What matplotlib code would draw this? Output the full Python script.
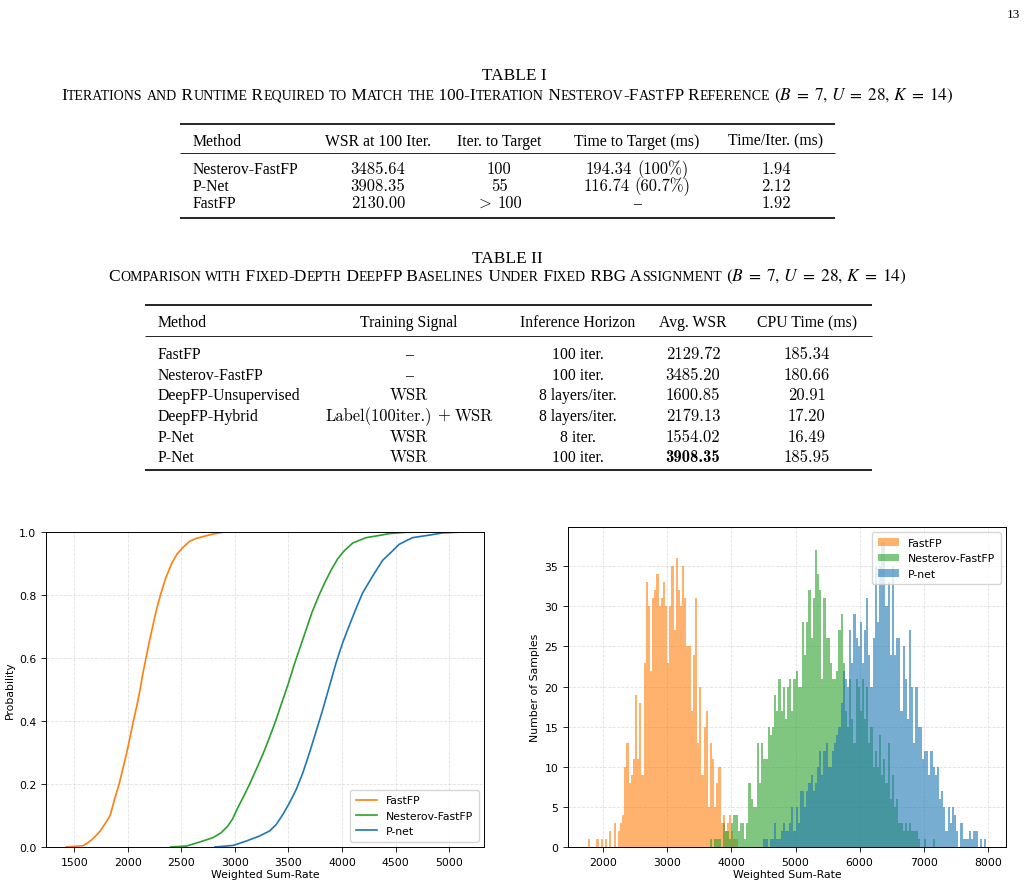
import numpy as np
import matplotlib
matplotlib.use("Agg")
import matplotlib.pyplot as plt
from matplotlib.lines import Line2D

plt.rcParams['mathtext.fontset'] = 'stix'

# ---------------- data ----------------
# Table I
t1_header = ["Method", "WSR at 100 Iter.", "Iter. to Target", "Time to Target (ms)", "Time/Iter. (ms)"]
t1_methods = ["Nesterov-FastFP", "P-Net", "FastFP"]
t1_wsr = ["3485.64", "3908.35", "2130.00"]
t1_iter = ["100", "55", "> 100"]
t1_time = ["194.34 (100%)", "116.74 (60.7%)", "–"]
t1_per_iter = ["1.94", "2.12", "1.92"]

# Table II
t2_header = ["Method", "Training Signal", "Inference Horizon", "Avg. WSR", "CPU Time (ms)"]
t2_methods = ["FastFP", "Nesterov-FastFP", "DeepFP-Unsupervised", "DeepFP-Hybrid", "P-Net", "P-Net"]
t2_signal = ["–", "–", "WSR", "Label(100iter.) + WSR", "WSR", "WSR"]
t2_horizon = ["100 iter.", "100 iter.", "8 layers/iter.", "8 layers/iter.", "8 iter.", "100 iter."]
t2_wsr = ["2129.72", "3485.20", "1600.85", "2179.13", "1554.02", "3908.35"]
t2_cpu = ["185.34", "180.66", "20.91", "17.20", "16.49", "185.95"]
t2_bold_row = 5

cap1 = "Iterations and Runtime Required to Match the 100-Iteration Nesterov-FastFP Reference "
cap2 = "Comparison with Fixed-Depth DeepFP Baselines Under Fixed RBG Assignment "
cap_math = r"$(B\;=\;7,\,U\;=\;28,\,K\;=\;14)$"

# CDF curves (x = weighted sum-rate, p = cumulative probability)
cdf_fast_x = [1422, 1500, 1580, 1620, 1660, 1700, 1745, 1790, 1835, 1875, 1919, 1955, 1990, 2022, 2052,
              2085, 2115, 2140, 2170, 2200, 2232, 2265, 2305, 2350, 2409, 2460, 2512, 2575, 2640, 2720,
              2800, 2909]
cdf_fast_p = [0.0, 0.002, 0.004, 0.012, 0.022, 0.035, 0.052, 0.075, 0.1, 0.15, 0.2, 0.25, 0.3, 0.35, 0.4,
              0.45, 0.5, 0.55, 0.6, 0.65, 0.7, 0.75, 0.8, 0.85, 0.9, 0.93, 0.95, 0.97, 0.98, 0.987,
              0.994, 1.0]
cdf_nest_x = [2400, 2549, 2673, 2797, 2870, 2930, 2980, 3020, 3076, 3138, 3200, 3262, 3320, 3380, 3440,
              3500, 3555, 3610, 3665, 3720, 3780, 3840, 3900, 3960, 4020, 4100, 4224, 4348, 4441, 4597, 4783]
cdf_nest_p = [0.0, 0.003, 0.016, 0.03, 0.045, 0.065, 0.09, 0.12, 0.157, 0.2, 0.247, 0.295, 0.345, 0.4, 0.46,
              0.52, 0.58, 0.635, 0.69, 0.745, 0.795, 0.84, 0.88, 0.915, 0.94, 0.965, 0.982, 0.989, 0.995,
              0.999, 1.0]
cdf_pnet_x = [2813, 2983, 3107, 3231, 3325, 3387, 3449, 3511, 3573, 3635, 3697, 3759, 3821, 3883, 3945,
              4007, 4069, 4131, 4193, 4286, 4379, 4472, 4534, 4658, 4814, 4938, 5140]
cdf_pnet_p = [0.0, 0.005, 0.019, 0.035, 0.051, 0.072, 0.104, 0.141, 0.183, 0.236, 0.3, 0.368, 0.437, 0.511, 0.585,
              0.649, 0.704, 0.757, 0.807, 0.86, 0.91, 0.94, 0.961, 0.982, 0.99, 0.997, 1.0]

# Histogram: shared bins
hist_lo = 1760.0
hist_bin = 33.4
hist_nbins = 186
fast_start_bin = 0
fast_counts = [1, 0, 0, 0, 1, 0, 1, 0, 1, 0, 2, 0, 3, 0, 2, 3, 4, 10, 13, 8,
               9, 11, 19, 11, 18, 9, 23, 33, 30, 22, 31, 32, 34, 30, 31, 33, 30, 23, 30, 35,
               27, 36, 32, 30, 35, 31, 25, 25, 17, 24, 31, 13, 20, 9, 15, 17, 5, 13, 11, 5,
               8, 10, 3, 4, 2, 3, 4, 2, 1, 1]
nest_start_bin = 57
nest_counts = [1, 0, 1, 1, 1, 0, 3, 2, 2, 1, 3, 4, 4, 2, 3, 3, 1, 3, 8, 6,
               5, 5, 13, 8, 13, 11, 11, 15, 14, 15, 19, 17, 21, 17, 20, 16, 20, 21, 17, 21,
               22, 20, 20, 28, 24, 28, 32, 26, 31, 37, 34, 32, 21, 31, 26, 26, 23, 21, 21, 22,
               27, 29, 23, 17, 15, 21, 16, 13, 21, 20, 17, 21, 16, 20, 13, 15, 10, 12, 10, 14,
               9, 11, 8, 13, 6, 9, 5, 6, 3, 3, 2, 3, 2, 3, 2, 2, 2, 1, 0, 0,
               1, 0, 0, 0, 1]
pnet_start_bin = 82
pnet_counts = [1, 1, 0, 1, 1, 3, 1, 1, 2, 3, 2, 2, 3, 5, 2, 5, 3, 7, 7, 5,
               7, 8, 9, 7, 8, 10, 12, 9, 12, 13, 10, 10, 12, 13, 14, 15, 18, 22, 21, 20,
               27, 23, 29, 26, 25, 28, 23, 27, 31, 24, 20, 26, 35, 28, 35, 38, 38, 30, 33, 24,
               35, 24, 26, 26, 17, 25, 21, 16, 27, 20, 13, 20, 15, 15, 11, 12, 12, 9, 12, 10,
               9, 10, 6, 7, 5, 2, 5, 3, 5, 4, 2, 0, 3, 1, 1, 1, 2, 1, 2, 2,
               0, 1, 0, 1]

labels = ["FastFP", "Nesterov-FastFP", "P-net"]
colors = ["tab:orange", "tab:green", "tab:blue"]

# ---------------- figure ----------------
W, H = 1028, 887
fig = plt.figure(figsize=(W / 100, H / 100), dpi=100)
renderer = fig.canvas.get_renderer()
SERIF = ["Liberation Serif", "DejaVu Serif"]
TS = 11.3
CS = 11.9


def fx(x):
    return x / W


def fy(y):
    return 1 - y / H


def txt(x, y, s, ha="left", size=TS, weight="normal"):
    return fig.text(fx(x), fy(y), s, ha=ha, va="baseline", fontsize=size,
                    family=SERIF, fontweight=weight)


def cm_cell(xc, y, s, bold=False, size=CS):
    """Computer-Modern style cell: words placed one by one (no space glyph needed)."""
    words = s.split(" ")
    arts, gaps = [], []
    for k, w in enumerate(words):
        if w == ">":
            a = fig.text(0, fy(y), r"$>$", va="baseline", ha="left", fontsize=size,
                         math_fontfamily="cm")
        else:
            a = fig.text(0, fy(y), w, va="baseline", ha="left", fontsize=size,
                         family="cmb10" if bold else "cmr10")
        arts.append(a)
        if k < len(words) - 1:
            gaps.append(0.31 * size * 100 / 72.0)
    widths = [a.get_window_extent(renderer).width for a in arts]
    total = sum(widths) + sum(gaps)
    x = xc - total / 2
    for k, (a, w) in enumerate(zip(arts, widths)):
        a.set_x(fx(x))
        x += w + (gaps[k] if k < len(gaps) else 0)


def cell(x, y, s, bold=False):
    if s == "–":
        return txt(x, y, s, ha="center")
    return cm_cell(x, y, s, bold=bold)


def rule(x0, x1, y, lw):
    fig.add_artist(Line2D([fx(x0), fx(x1)], [fy(y), fy(y)], transform=fig.transFigure,
                          color="black", lw=lw, solid_capstyle="butt"))


def smallcaps(xc, y, text, math, target_w, big=8.1, ratio=0.8):
    runs = []
    for ch in text:
        small = ch.islower()
        c = ch.upper() if small else ch
        if runs and runs[-1][1] == small:
            runs[-1][0] += c
        else:
            runs.append([c, small])
    arts = []
    for s, small in runs:
        t = fig.text(0, fy(y), s, va="baseline", ha="left", family=SERIF,
                     fontsize=big * ratio if small else big)
        arts.append(t)
    arts.append(fig.text(0, fy(y), math, va="baseline", ha="left", fontsize=big))
    total = sum(a.get_window_extent(renderer).width for a in arts)
    scale = target_w / total
    for a in arts:
        a.set_fontsize(a.get_fontsize() * scale)
    widths = [a.get_window_extent(renderer).width for a in arts]
    x = xc - sum(widths) / 2
    for a, w in zip(arts, widths):
        a.set_x(fx(x))
        x += w
    return big * scale


# page number
txt(1020, 18, "13", ha="right", size=9.5)

# ---- Table I ----
cs = smallcaps(507.5, 100, cap1, cap_math, 891)
txt(514, 80, "TABLE I", ha="center", size=cs)
rule(180, 835, 125, 1.2)
rule(180, 835, 154.3, 0.6)
rule(180, 835, 219.3, 1.2)
t1_x = [192.5, 378, 499, 637, 776]
t1_hy = 145.7
t1_ry = [173.7, 191, 208]
txt(t1_x[0], t1_hy, t1_header[0])
for j in range(1, 5):
    txt(t1_x[j], t1_hy, t1_header[j], ha="center")
cols1 = [t1_wsr, t1_iter, t1_time, t1_per_iter]
for i, y in enumerate(t1_ry):
    txt(t1_x[0], y, t1_methods[i])
    for j, col in enumerate(cols1):
        cell(t1_x[j + 1], y, col[i])

# ---- Table II ----
cs2 = smallcaps(507.5, 281, cap2, cap_math, 799)
txt(507, 263, "TABLE II", ha="center", size=cs2)
rule(145, 872, 306, 1.2)
rule(145, 872, 336.7, 0.6)
rule(145, 872, 471, 1.2)
t2_x = [157.3, 409, 577.5, 693, 806.7]
t2_hy = 327
t2_ry = [359.3, 379.9, 400.5, 421.1, 441.7, 462.3]
txt(t2_x[0], t2_hy, t2_header[0])
for j in range(1, 5):
    txt(t2_x[j], t2_hy, t2_header[j], ha="center")
for i, y in enumerate(t2_ry):
    txt(t2_x[0], y, t2_methods[i])
    cell(t2_x[1], y, t2_signal[i])
    txt(t2_x[2], y, t2_horizon[i], ha="center")
    cell(t2_x[3], y, t2_wsr[i], bold=(i == t2_bold_row))
    cell(t2_x[4], y, t2_cpu[i])

# ---- plots ----
FS = 7.8
plt.rcParams.update({"font.size": FS})


def style(ax):
    ax.grid(True, linestyle="--", color="#cccccc", alpha=0.6, lw=0.6)
    ax.set_axisbelow(True)
    ax.tick_params(labelsize=FS, length=3.5, width=0.6)
    for sp in ax.spines.values():
        sp.set_linewidth(0.7)
    ax.set_xlabel("Weighted Sum-Rate", fontsize=FS, labelpad=2)


ax1 = fig.add_axes([fx(46), fy(848), (484 - 46) / W, (848 - 533) / H])
ax1.plot(cdf_fast_x, cdf_fast_p, color=colors[0], lw=1.2, label=labels[0])
ax1.plot(cdf_nest_x, cdf_nest_p, color=colors[1], lw=1.2, label=labels[1])
ax1.plot(cdf_pnet_x, cdf_pnet_p, color=colors[2], lw=1.2, label=labels[2])
ax1.set_ylim(0, 1)
ax1.set_ylabel("Probability", fontsize=FS, labelpad=3)
style(ax1)
ax1.legend(loc="lower right", fontsize=FS, borderpad=0.5, handlelength=2.0)

ax2 = fig.add_axes([fx(568), fy(848), (1006 - 568) / W, (848 - 528) / H])
edges = hist_lo + hist_bin * np.arange(hist_nbins + 1)
for start, counts, lab, col in [(fast_start_bin, fast_counts, labels[0], colors[0]),
                                (nest_start_bin, nest_counts, labels[1], colors[1]),
                                (pnet_start_bin, pnet_counts, labels[2], colors[2])]:
    e = edges[start:start + len(counts) + 1]
    centers = 0.5 * (e[:-1] + e[1:])
    ax2.hist(centers, bins=e, weights=counts, alpha=0.6, color=col, label=lab)
ax2.set_ylabel("Number of Samples", fontsize=FS, labelpad=3)
ax2.set_xticks([2000, 3000, 4000, 5000, 6000, 7000, 8000])
style(ax2)
ax2.legend(loc="upper right", fontsize=FS, borderpad=0.5, handlelength=2.0)

fig.savefig("out.png", dpi=100)
